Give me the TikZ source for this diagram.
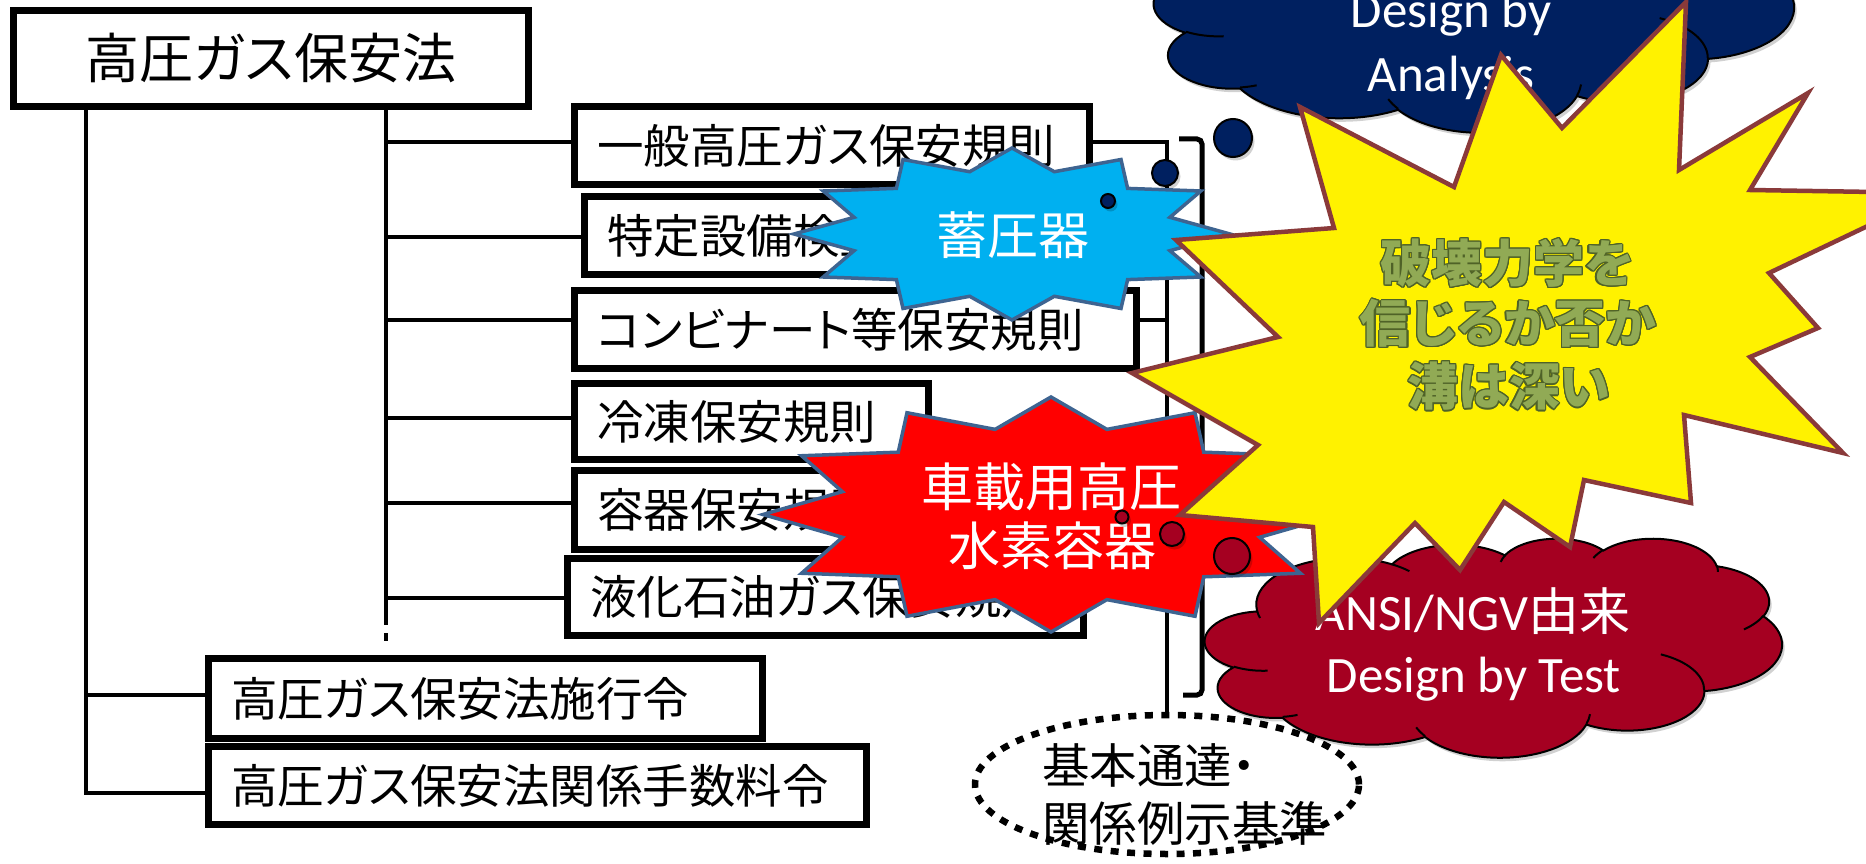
\documentclass[tikz,border=0pt]{standalone}
\usepackage{fontspec}
\setmainfont{Carlito}
\newfontfamily\jp[RawFeature=+palt]{Noto Sans CJK JP}
\usepackage[copies]{contour}
\contourlength{1.2pt}
\contournumber{16}
\usetikzlibrary{shapes.geometric}
\definecolor{navy}{HTML}{002060}
\definecolor{wine}{HTML}{A50021}
\definecolor{skyb}{HTML}{00B0F0}
\definecolor{stblue}{RGB}{62,100,145}
\definecolor{ybord}{RGB}{138,58,58}
\definecolor{olivef}{RGB}{145,170,85}
\definecolor{olived}{RGB}{79,98,40}
\newcommand{\cloudoutline}{(39,143.7)
 arc[start angle=-187.75,end angle=-59.66,x radius=67.53,y radius=91.90]
 arc[start angle=-152.03,end angle=-45.47,x radius=53.33,y radius=72.67]
 arc[start angle=-153.49,end angle=-37.33,x radius=43.65,y radius=59.45]
 arc[start angle=-139.71,end angle=-10.21,x radius=48.57,y radius=65.95]
 arc[start angle=-74.74,end angle=23.21,x radius=53.33,y radius=72.73]
 arc[start angle=-37.54,end angle=81.86,x radius=67.75,y radius=92.20]
 arc[start angle=0.46,end angle=121.96,x radius=57.85,y radius=78.67]
 arc[start angle=16.84,end angle=146.25,x radius=67.52,y radius=92.15]
 arc[start angle=59.02,end angle=150.17,x radius=77.20,y radius=105.43]
 arc[start angle=-276.70,end angle=-136.91,x radius=43.60,y radius=59.18]
 arc[start angle=-239.61,end angle=-95.89,x radius=43.45,y radius=59.45]
 -- cycle}
\newcommand{\cloudinner}{
 (46.93,261.77) arc[start angle=85.54,end angle=120.39,x radius=43.45,y radius=59.45]
 (69.28,348.99) arc[start angle=68.24,end angle=83.30,x radius=43.60,y radius=59.18]
 (164.78,390.90) arc[start angle=146.25,end angle=158.47,x radius=67.52,y radius=92.15]
 (288.27,347.51) arc[start angle=4.74,end angle=16.84,x radius=67.52,y radius=92.15]
 (341.29,229.54) arc[start angle=-64.01,end angle=0.46,x radius=57.85,y radius=78.67]
 (417.98,153.54) arc[start angle=23.21,end angle=49.65,x radius=53.33,y radius=72.73]
 (383.24,54.26) arc[start angle=-10.21,end angle=0.82,x radius=48.57,y radius=65.95]
 (290.78,39.52) arc[start angle=-156.28,end angle=-139.71,x radius=48.57,y radius=65.95]
 (221.41,47.20) arc[start angle=-167.72,end angle=-153.49,x radius=43.65,y radius=59.45]
 (140.00,51.92) arc[start angle=-59.66,end angle=-45.74,x radius=67.53,y radius=91.90]
 (41.27,157.89) arc[start angle=163.19,end angle=172.25,x radius=67.53,y radius=91.90]}
\tikzset{
 conn/.style={line width=4.5pt},
 box/.style={draw=black, line width=7pt, fill=white, rectangle, inner xsep=22.5pt, inner ysep=0pt,
   font=\jp\fontsize{46.5}{50}\selectfont, align=left},
 shadowed/.style={preaction={fill=black, opacity=.18, transform canvas={xshift=2.5pt,yshift=-3.5pt}}},
 navyc/.style={circle, fill=navy, draw=black, line width=2pt, inner sep=0pt, shadowed},
 winec/.style={circle, fill=wine, draw=black, line width=2pt, inner sep=0pt, shadowed},
 cloudline/.style={draw=black, line width=2pt},
 starline/.style={draw=stblue, line width=3.5pt, line join=miter},
 cloudtext/.style={text=white, anchor=base, inner sep=0pt, font=\fontsize{51}{51}\selectfont},
 yeltext/.style={text=olivef, inner sep=0pt, font=\jp\bfseries\fontsize{51}{51}\selectfont},
}
\begin{document}
\begin{tikzpicture}[x=1pt,y=-1pt]
\useasboundingbox[fill=white] (0,0) rectangle (1866,864);
% ---- tree boxes
\node[box, font=\jp\fontsize{54}{60}\selectfont, align=center, inner xsep=0pt, minimum width=515, minimum height=96] (title) at (271,58.5) {高圧ガス保安法};
\node[box, minimum width=515, minimum height=78, text width=470] (b1) at (832,145.5) {一般高圧ガス保安規則};
\node[box, minimum width=412, minimum height=78, text width=367] (b2) at (790.5,235.5) {特定設備検査規則};
\node[box, minimum width=562, minimum height=78, text width=517] (b3) at (855.5,329.5) {コンビナート等保安規則};
\node[box, minimum width=354, minimum height=76, text width=309] (b4) at (751.5,421.5) {冷凍保安規則};
\node[box, minimum width=354, minimum height=79, text width=309] (b5) at (751.5,510) {容器保安規則};
\node[box, minimum width=516, minimum height=77, text width=471] (b6) at (825.5,597) {液化石油ガス保安規則};
\node[box, minimum width=554, minimum height=80, text width=509] (r1) at (485.5,698.5) {高圧ガス保安法施行令};
\node[box, minimum width=658, minimum height=78, text width=613] (r2) at (537.5,785.5) {高圧ガス保安法関係手数料令};
% ---- tree connectors
\coordinate (vL) at (86,0);
\coordinate (v2) at (386,0);
\coordinate (v2end) at (386,625);
\coordinate (v2dotA) at (386,633);
\coordinate (v2dotB) at (386,641);
\draw[conn] (title.south -| vL) |- ([yshift=-7.5pt]r2.west);
\draw[conn] ([yshift=3.5pt]r1.west) -- ([yshift=3.5pt]r1.west -| vL);
\draw[conn] (title.south -| v2) -- (v2end);
\draw[conn] (v2dotA) -- (v2dotB);
\draw[conn] ([yshift=3.5pt]b1.west) -- ([yshift=3.5pt]b1.west -| v2);
\draw[conn] ([yshift=-1.5pt]b2.west) -- ([yshift=-1.5pt]b2.west -| v2);
\draw[conn] ([yshift=9.5pt]b3.west) -- ([yshift=9.5pt]b3.west -| v2);
\draw[conn] ([yshift=3.5pt]b4.west) -- ([yshift=3.5pt]b4.west -| v2);
\draw[conn] ([yshift=7pt]b5.west) -- ([yshift=7pt]b5.west -| v2);
\draw[conn] ([yshift=-1pt]b6.west) -- ([yshift=-1pt]b6.west -| v2);
% ---- dotted ellipse
\node[ellipse, draw=black, line width=6.5pt, dash pattern=on 8pt off 8.5pt, minimum width=384, minimum height=139, inner sep=0pt] (kihon) at (1167,784.5) {};
\node[anchor=west, inner sep=0pt, font=\jp\fontsize{47.5}{48}\selectfont] (kt1) at (1042,765) {基本通達・};
\node[anchor=west, inner sep=0pt, font=\jp\fontsize{47.5}{48}\selectfont] (kt2) at (1042,823) {関係例示基準};
\draw[conn] ([yshift=3.5pt]b1.east) -| (kihon.north);
\draw[conn] ([yshift=9.5pt]b3.east) -- ([yshift=9.5pt]b3.east -| kihon.north);
% ---- right bracket
\coordinate (brA) at (1179,139);
\coordinate (brB) at (1202,139);
\coordinate (brC) at (1202,695);
\coordinate (brD) at (1183,695);
\draw[conn, line width=5pt, rounded corners=5pt] (brA) -- (brB) -- (brC) -- (brD);
% ---- blue cloud
\begin{scope}[shift={(1154,-111)}, xscale=1.4815, yscale=0.5625]
  \path[fill=navy, cloudline, shadowed] \cloudoutline;
  \draw[line width=2pt] \cloudinner;
\end{scope}
\node[cloudtext] (dba1) at (1451,28) {Design by};
\node[cloudtext] (dba2) at (1451,92) {Analysis};
% ---- red cloud
\begin{scope}[shift={(1205,538)}, xscale=1.3356, yscale=0.5069]
  \path[fill=wine, cloudline, shadowed] \cloudoutline;
  \draw[line width=2pt] \cloudinner;
\end{scope}
\node[cloudtext] (dbt1) at (1473,630) {ANSI/NGV{\jp 由来}};
\node[cloudtext] (dbt2) at (1474,692) {Design by Test};
% ---- navy thought circles
\node[navyc, minimum size=38] (nc3) at (1233,138) {};
\node[navyc, minimum size=26] (nc2) at (1165,173) {};
% ---- blue star
\begin{scope}[shift={(1012,234)}, xscale=218, yscale=86]
  \path[fill=skyb, starline] (90:1) \foreach \i in {1,...,11}{ -- ({105-\i*30}:0.75) -- ({90-\i*30}:1)} -- (105:0.75) -- cycle;
\end{scope}
\node[inner sep=0pt, text=white, font=\jp\fontsize{51}{51}\selectfont] (chiku) at (1013,235) {蓄圧器};
\node[navyc, minimum size=14] (nc1) at (1108,201) {};
% ---- red star
\begin{scope}[shift={(1051,514.5)}, xscale=288, yscale=117.5]
  \path[fill=red, starline] (90:1) \foreach \i in {1,...,11}{ -- ({105-\i*30}:0.75) -- ({90-\i*30}:1)} -- (105:0.75) -- cycle;
\end{scope}
\node[inner sep=0pt, text=white, font=\jp\fontsize{52}{52}\selectfont] (sha1) at (1051,487) {車載用高圧};
\node[inner sep=0pt, text=white, font=\jp\fontsize{52}{52}\selectfont] (sha2) at (1052,546) {水素容器};
\node[winec, minimum size=13] (wc1) at (1122,517) {};
\node[winec, minimum size=24] (wc2) at (1172,534) {};
\node[winec, minimum size=36] (wc3) at (1232,556) {};
% ---- yellow explosion
\path[fill=yellow, draw=ybord, line width=4.5pt, line join=miter]
 (1686,2) -- (1679,170) -- (1808,93) -- (1750,190) -- (1937,193) -- (1769,273) -- (1818,328)
 -- (1750,357) -- (1843,453) -- (1684,415) -- (1691,503) -- (1584,480) -- (1570,547) -- (1504,502)
 -- (1460,570) -- (1415,523) -- (1319,623) -- (1313,527) -- (1180,515) -- (1258,445) -- (1132,373)
 -- (1278,337) -- (1176,240) -- (1334,228) -- (1300,107) -- (1454,187) -- (1501,55) -- (1562,128) -- cycle;
\node[yeltext] (hk1) at (1507,264) {\contour{olived}{破壊力学を}};
\node[yeltext] (hk2) at (1508,324) {\contour{olived}{信じるか否か}};
\node[yeltext] (hk3) at (1509,387) {\contour{olived}{溝は深い}};
\end{tikzpicture}
\end{document}
